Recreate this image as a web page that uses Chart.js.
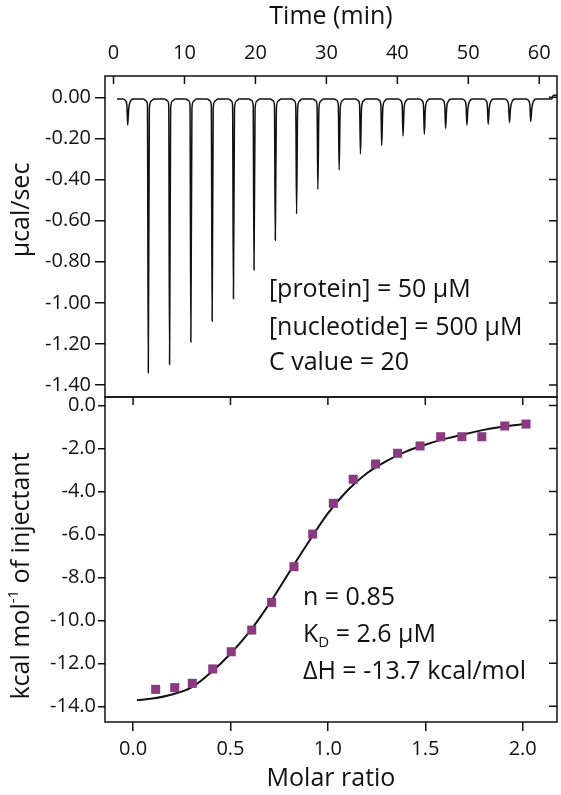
<!DOCTYPE html>
<html>
<head>
<meta charset="utf-8">
<script src="https://cdn.jsdelivr.net/npm/chart.js@4/dist/chart.umd.min.js"></script>
<style>
  html, body { margin: 0; padding: 0; background: #fff; }
  #wrap { position: relative; width: 561px; height: 795px; }
  #thermo { position: absolute; left: 0; top: 0; }
  #isotherm { position: absolute; left: 0; top: 390px; }
</style>
</head>
<body>
<div id="wrap">
  <canvas id="thermo" width="561" height="400"></canvas>
  <canvas id="isotherm" width="561" height="405"></canvas>
</div>
<script>
// raw thermogram: injection times (min) and peak heights (µcal/sec)
const injTime = [2.0, 4.9, 7.9, 10.9, 13.9, 16.9, 19.8, 22.8, 25.8, 28.8,
                 31.8, 34.8, 37.8, 40.8, 43.8, 46.8, 49.8, 52.8, 55.8, 58.8];
const peakPower = [-0.135, -1.34, -1.30, -1.19, -1.09, -0.98, -0.84, -0.695, -0.568, -0.448,
                   -0.354, -0.276, -0.234, -0.188, -0.180, -0.151, -0.135, -0.131, -0.123, -0.117];
const baseline = -0.008;
const traceStart = 0.5;
const traceEnd = 62.5;
const stepTime = 61.9;
const stepLevel = 0.01;

// integrated heats (kcal/mol of injectant) vs molar ratio
const molarRatio = [0.116, 0.214, 0.304, 0.409, 0.504, 0.609, 0.711, 0.826, 0.922, 1.028,
                    1.130, 1.245, 1.358, 1.473, 1.579, 1.688, 1.790, 1.908, 2.017];
const heat = [-13.21, -13.13, -12.93, -12.26, -11.46, -10.45, -9.16, -7.50, -5.98, -4.55,
              -3.43, -2.72, -2.22, -1.88, -1.45, -1.45, -1.45, -0.95, -0.86];

// fitted binding curve
const fitRatio = [0.02, 0.1, 0.2, 0.3, 0.4, 0.5, 0.6, 0.7, 0.8, 0.9, 1.0,
                  1.1, 1.2, 1.3, 1.4, 1.5, 1.6, 1.7, 1.8, 1.9, 2.02];
const fitHeat = [-13.72, -13.64, -13.45, -13.12, -12.42, -11.55, -10.5, -9.22, -7.78, -6.36, -5.02,
                 -3.95, -3.15, -2.58, -2.14, -1.82, -1.55, -1.33, -1.13, -0.97, -0.85];

const FONT = "'Open Sans', 'Noto Sans', sans-serif";
const INK = '#111';
const PURPLE = '#8b3a81';

// build the trace: flat baseline with a rounded shoulder and a sharp dip at every injection
const tracePts = [{x: traceStart, y: baseline}];
injTime.forEach((t, i) => {
  tracePts.push(
    {x: t - 0.7, y: baseline},
    {x: t - 0.3, y: baseline - 0.008},
    {x: t - 0.12, y: baseline - 0.03},
    {x: t, y: peakPower[i]},
    {x: t + 0.15, y: baseline - 0.045},
    {x: t + 0.4, y: baseline - 0.01},
    {x: t + 0.8, y: baseline}
  );
});
tracePts.push({x: stepTime - 0.15, y: baseline}, {x: stepTime + 0.1, y: stepLevel}, {x: traceEnd, y: stepLevel});

const fitPts = fitRatio.map((r, i) => ({x: r, y: fitHeat[i]}));
const heatPts = molarRatio.map((r, i) => ({x: r, y: heat[i]}));

// text made of pieces, some of them sub/superscript
function partsWidth(ctx, parts, size) {
  let w = 0;
  parts.forEach(p => {
    ctx.font = (p.sub || p.sup ? size * 0.6 : size) + 'px ' + FONT;
    w += ctx.measureText(p.t).width;
  });
  return w;
}
function drawParts(ctx, parts, x, y, size) {
  parts.forEach(p => {
    const s = p.sub || p.sup ? size * 0.6 : size;
    ctx.font = s + 'px ' + FONT;
    const dy = p.sub ? size * 0.3 : p.sup ? -size * 0.32 : 0;
    ctx.fillText(p.t, x, y + dy);
    x += ctx.measureText(p.t).width;
  });
}

// box frame, inward ticks on top/right, notes and y title
const framePlugin = {
  id: 'frame',
  afterDraw(chart, args, opts) {
    const {ctx, chartArea: a, scales: {x, y}} = chart;
    ctx.save();
    ctx.strokeStyle = INK;
    ctx.lineWidth = 1.5;
    ctx.strokeRect(a.left, a.top, a.right - a.left, a.bottom - a.top);
    ctx.beginPath();
    x.ticks.forEach(t => {
      const px = x.getPixelForValue(t.value);
      ctx.moveTo(px, a.top);
      ctx.lineTo(px, a.top + opts.tick);
    });
    y.ticks.forEach(t => {
      const py = y.getPixelForValue(t.value);
      ctx.moveTo(a.right, py);
      ctx.lineTo(a.right - opts.tick, py);
    });
    ctx.stroke();

    ctx.fillStyle = INK;
    ctx.textBaseline = 'middle';
    ctx.textAlign = 'left';
    opts.notes.forEach(n => {
      drawParts(ctx, n.parts, x.getPixelForValue(n.x), y.getPixelForValue(n.y), 25);
    });

    ctx.translate(opts.titleX, opts.titleY);
    ctx.rotate(-Math.PI / 2);
    const w = partsWidth(ctx, opts.title, 25);
    drawParts(ctx, opts.title, -w / 2, 0, 25);
    ctx.restore();
  }
};

// keep the plot box where it is in the figure, labels may hang over
function fixY(s) {
  s.width = 105;
  s.paddingTop = 0;
  s.paddingBottom = 0;
}

const tickFont = {family: FONT, size: 20};
const titleFont = {family: FONT, size: 25};

new Chart(document.getElementById('thermo'), {
  type: 'line',
  data: {
    datasets: [{
      data: tracePts,
      borderColor: INK,
      borderWidth: 1.5,
      pointRadius: 0,
      cubicInterpolationMode: 'monotone',
      fill: false
    }]
  },
  options: {
    responsive: false,
    animation: false,
    layout: {autoPadding: false, padding: {right: 4, bottom: 3}},
    plugins: {
      legend: {display: false},
      tooltip: {enabled: false},
      frame: {
        tick: 8,
        titleX: 22, titleY: 210,
        title: [{t: 'µcal/sec'}],
        notes: [
          {x: 21.9, y: -0.937, parts: [{t: '[protein] = 50 µM'}]},
          {x: 21.9, y: -1.122, parts: [{t: '[nucleotide] = 500 µM'}]},
          {x: 21.9, y: -1.293, parts: [{t: 'C value = 20'}]}
        ]
      }
    },
    scales: {
      x: {
        type: 'linear', position: 'top', min: -1.2, max: 62.5,
        ticks: {stepSize: 10, includeBounds: false, padding: 11, font: tickFont, color: INK, maxRotation: 0},
        grid: {display: false, drawTicks: false},
        border: {display: false},
        title: {display: true, text: 'Time (min)', font: titleFont, color: INK, padding: {top: 2, bottom: 0}},
        afterFit(s) { s.height = 76; s.paddingLeft = 0; s.paddingRight = 0; }
      },
      y: {
        min: -1.458, max: 0.104,
        ticks: {
          stepSize: 0.2, includeBounds: false, padding: 4, font: tickFont, color: INK,
          callback: v => (Math.abs(v) < 1e-9 ? 0 : v).toFixed(2)
        },
        grid: {drawOnChartArea: false, drawTicks: true, tickLength: 10, color: INK, lineWidth: 1.5},
        border: {display: false},
        afterFit: fixY
      }
    }
  },
  plugins: [framePlugin]
});

new Chart(document.getElementById('isotherm'), {
  type: 'scatter',
  data: {
    datasets: [{
      data: heatPts,
      pointStyle: 'rect',
      pointRadius: 6.4,
      backgroundColor: PURPLE,
      borderWidth: 0
    }, {
      type: 'line',
      data: fitPts,
      borderColor: INK,
      borderWidth: 2,
      pointRadius: 0,
      cubicInterpolationMode: 'monotone',
      fill: false
    }]
  },
  options: {
    responsive: false,
    animation: false,
    layout: {autoPadding: false, padding: {top: 7, right: 4}},
    plugins: {
      legend: {display: false},
      tooltip: {enabled: false},
      frame: {
        tick: 8,
        titleX: 22, titleY: 186,
        title: [{t: 'kcal mol'}, {t: '-1', sup: true}, {t: ' of injectant'}],
        notes: [
          {x: 0.872, y: -8.96, parts: [{t: 'n = 0.85'}]},
          {x: 0.872, y: -10.68, parts: [{t: 'K'}, {t: 'D', sub: true}, {t: ' = 2.6 µM'}]},
          {x: 0.872, y: -12.40, parts: [{t: 'ΔH = -13.7 kcal/mol'}]}
        ]
      }
    },
    scales: {
      x: {
        type: 'linear', position: 'bottom', min: -0.144, max: 2.176,
        ticks: {stepSize: 0.5, includeBounds: false, padding: 6, font: tickFont, color: INK, maxRotation: 0,
                callback: v => v.toFixed(1)},
        grid: {drawOnChartArea: false, drawTicks: true, tickLength: 9, color: INK, lineWidth: 1.5},
        border: {display: false},
        title: {display: true, text: 'Molar ratio', font: titleFont, color: INK, padding: {top: 0, bottom: 1}},
        afterFit(s) { s.height = 73; s.paddingLeft = 0; s.paddingRight = 0; }
      },
      y: {
        min: -14.73, max: 0.4,
        ticks: {
          stepSize: 2, includeBounds: false, padding: 2, font: tickFont, color: INK,
          callback: v => (Math.abs(v) < 1e-9 ? 0 : v).toFixed(1)
        },
        grid: {drawOnChartArea: false, drawTicks: true, tickLength: 7, color: INK, lineWidth: 1.5},
        border: {display: false},
        afterFit: fixY
      }
    }
  },
  plugins: [framePlugin]
});
</script>
</body>
</html>
